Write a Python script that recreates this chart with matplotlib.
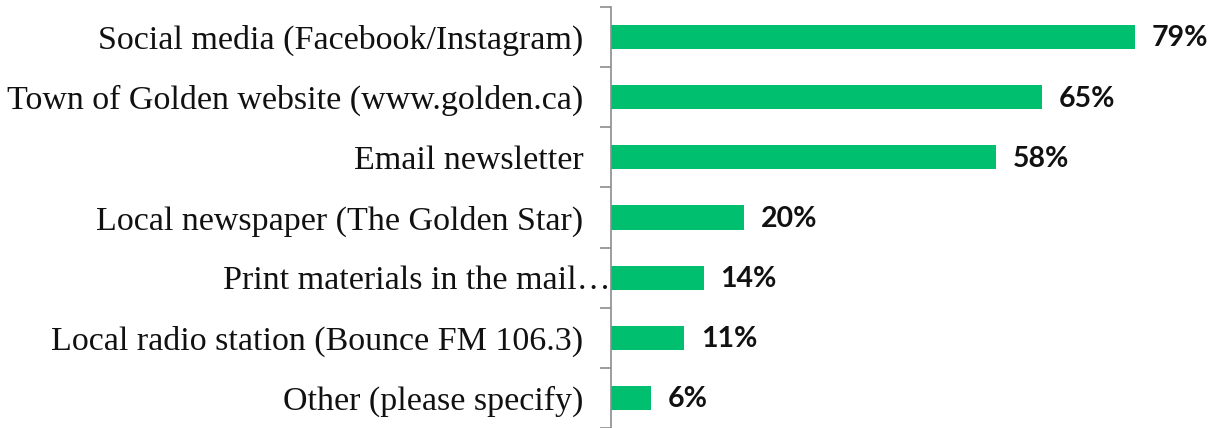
import matplotlib.pyplot as plt
import numpy as np

labels = ['Social media (Facebook/Instagram)', 'Town of Golden website (www.golden.ca)',
          'Email newsletter', 'Local newspaper (The Golden Star)',
          'Print materials in the mail\u2026', 'Local radio station (Bounce FM 106.3)',
          'Other (please specify)']
values = [79, 65, 58, 20, 14, 11, 6]

green = '#00bf6f'

fig = plt.figure(figsize=(12.15, 4.28), dpi=100)
ax = fig.add_axes([611 / 1215, 0, 604 / 1215, 421 / 428])

y = np.arange(len(values))
ax.barh(y, values, height=0.4, color=green)
ax.set_ylim(len(values) - 0.5, -0.5)
ax.set_xlim(0, 91)

for yi, v in zip(y, values):
    ax.annotate(f'{v}%', (v, yi), xytext=(12, -1), textcoords='offset points',
                va='center', ha='left', fontsize=20.5, fontweight='bold',
                family='Lato', color='#111111', annotation_clip=False)

ax.set_yticks(y)
ax.set_yticklabels(labels, family='Liberation Serif', fontsize=24.5, color='#111111')
ax.set_yticks(np.arange(len(values) + 1) - 0.5, minor=True)
ax.tick_params(axis='y', which='major', length=0, pad=20)
ax.tick_params(axis='y', which='minor', length=8, color='#8c8c8c', width=1.2)
for lab in ax.get_yticklabels():
    if lab.get_text().startswith('Print'):
        lab.set_x(27 / 604)

ax.set_xticks([])
for s in ['top', 'right', 'bottom']:
    ax.spines[s].set_visible(False)
ax.spines['left'].set_color('#8c8c8c')
ax.spines['left'].set_linewidth(1.2)

fig.savefig('out.png')
